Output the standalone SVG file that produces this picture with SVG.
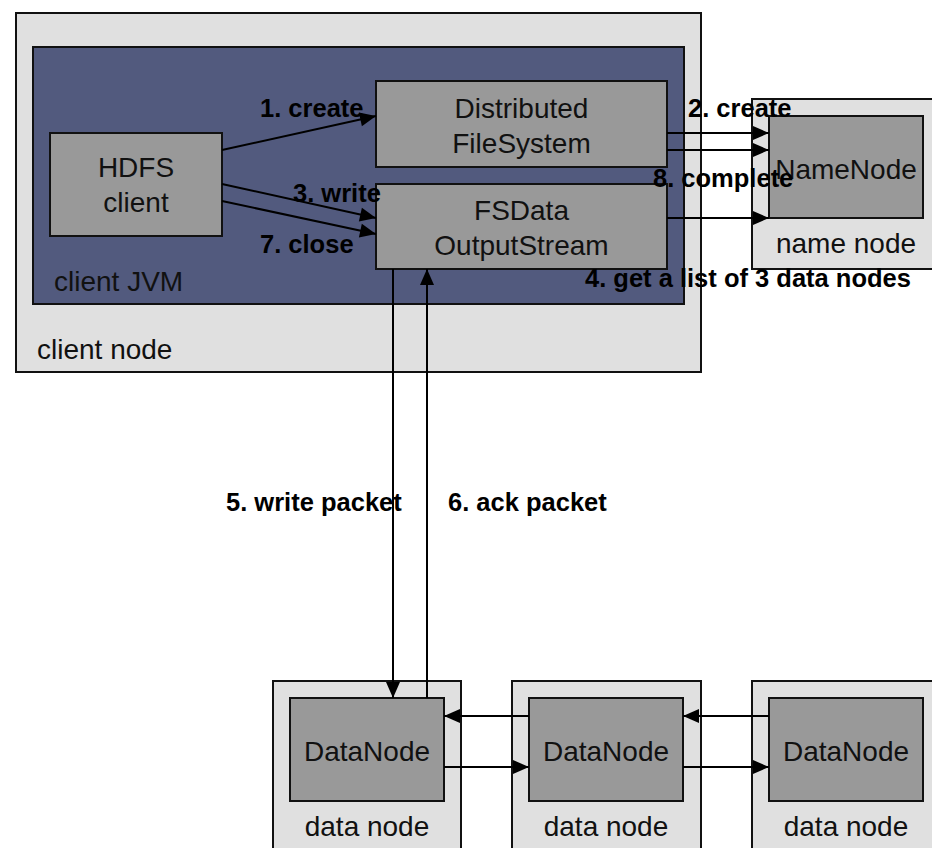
<svg xmlns="http://www.w3.org/2000/svg" width="932" height="848" viewBox="0 0 932 848">
<style>
.outer{fill:#e0e0e0;stroke:#111;stroke-width:2}
.jvm{fill:#525a7e;stroke:#111;stroke-width:2}
.box{fill:#999999;stroke:#111;stroke-width:2}
.t{font-family:"Liberation Sans",Arial,sans-serif;font-size:28px;fill:#111}
.c{text-anchor:middle}
.b{font-family:"Liberation Sans",Arial,sans-serif;font-size:25.5px;font-weight:bold;fill:#000}
.ln{stroke:#000;stroke-width:2;fill:none;marker-end:url(#ah)}
</style>
<defs>
<marker id="ah" markerUnits="userSpaceOnUse" markerWidth="18" markerHeight="16" viewBox="0 0 18 16" refX="17" refY="8" orient="auto">
<path d="M1,1 L17,8 L1,15 Z" fill="#000"/>
</marker>
</defs>
<rect width="932" height="848" fill="#fff"/>
<g id="client-node">
<rect class="outer" x="16" y="13" width="685" height="359"/>
<text class="t" x="37" y="359">client node</text>
</g>
<g id="client-jvm">
<rect class="jvm" x="33" y="47" width="651" height="257"/>
<text class="t" x="54" y="291">client JVM</text>
</g>
<g id="hdfs-client">
<rect class="box" x="50" y="133" width="172" height="103"/>
<text class="t c" x="136" y="177">HDFS</text>
<text class="t c" x="136" y="212">client</text>
</g>
<g id="distributed-fs">
<rect class="box" x="376" y="81" width="291" height="86"/>
<text class="t c" x="521.5" y="118">Distributed</text>
<text class="t c" x="521.5" y="153">FileSystem</text>
</g>
<g id="fsdata-os">
<rect class="box" x="376" y="184" width="291" height="85"/>
<text class="t c" x="521.5" y="220">FSData</text>
<text class="t c" x="521.5" y="255">OutputStream</text>
</g>
<g id="name-node">
<rect class="outer" x="752" y="99" width="188" height="170"/>
<rect class="box" x="769" y="116" width="154" height="102"/>
<text class="t c" x="846" y="179">NameNode</text>
<text class="t c" x="846" y="253">name node</text>
</g>
<g id="data-node-1">
<rect class="outer" x="273" y="681" width="188" height="170"/>
<rect class="box" x="290" y="698" width="154" height="103"/>
<text class="t c" x="367" y="761">DataNode</text>
<text class="t c" x="367" y="836">data node</text>
</g>
<g id="data-node-2">
<rect class="outer" x="512" y="681" width="189" height="170"/>
<rect class="box" x="529" y="698" width="154" height="103"/>
<text class="t c" x="606" y="761">DataNode</text>
<text class="t c" x="606" y="836">data node</text>
</g>
<g id="data-node-3">
<rect class="outer" x="752" y="681" width="188" height="170"/>
<rect class="box" x="769" y="698" width="154" height="103"/>
<text class="t c" x="846" y="761">DataNode</text>
<text class="t c" x="846" y="836">data node</text>
</g>
<g id="connectors">
<line class="ln" x1="222" y1="150" x2="376" y2="116"/>
<line class="ln" x1="222" y1="184" x2="376" y2="218"/>
<line class="ln" x1="222" y1="201" x2="376" y2="234"/>
<line class="ln" x1="667" y1="133" x2="769" y2="133"/>
<line class="ln" x1="667" y1="150" x2="769" y2="150"/>
<line class="ln" x1="667" y1="218" x2="769" y2="218"/>
<line class="ln" x1="393" y1="269" x2="393" y2="698"/>
<line class="ln" x1="427" y1="698" x2="427" y2="269"/>
<line class="ln" x1="529" y1="716" x2="444" y2="716"/>
<line class="ln" x1="444" y1="767" x2="529" y2="767"/>
<line class="ln" x1="769" y1="716" x2="683" y2="716"/>
<line class="ln" x1="683" y1="767" x2="769" y2="767"/>
</g>
<g id="labels">
<text class="b" x="260" y="117">1. create</text>
<text class="b" x="688" y="117">2. create</text>
<text class="b" x="293" y="202">3. write</text>
<text class="b" x="260" y="253">7. close</text>
<text class="b" x="653" y="187">8. complete</text>
<text class="b" x="585" y="287">4. get a list of 3 data nodes</text>
<text class="b" x="226" y="511">5. write packet</text>
<text class="b" x="448" y="511">6. ack packet</text>
</g>
</svg>
